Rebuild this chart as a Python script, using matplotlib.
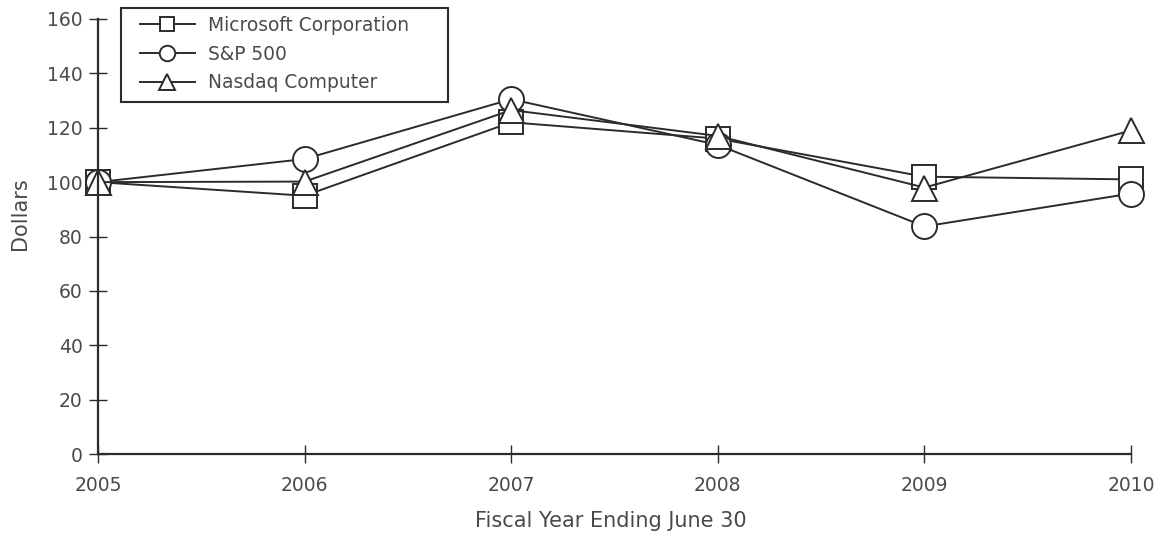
import matplotlib
matplotlib.use("Agg")
import matplotlib.pyplot as plt
from matplotlib.patches import Rectangle

# values
years = [2005, 2006, 2007, 2008, 2009, 2010]
microsoft = [100, 95, 122, 116, 102, 101]
sp500 = [100, 108.5, 130.5, 113.7, 83.7, 95.8]
nasdaq = [100, 100.2, 126.5, 117, 98, 119]
y_ticks = [0, 20, 40, 60, 80, 100, 120, 140, 160]

LINE = "#2b2b2b"
TEXT = "#4a4a4a"
W, H = 1164, 534

plt.rcParams["font.family"] = ["DejaVu Sans"]

fig = plt.figure(figsize=(W / 100, H / 100), dpi=100)
ax = fig.add_axes([98 / W, 1 - 454 / H, 1033 / W, 435 / H])

series = [
    ("Microsoft Corporation", microsoft, "s", 17.3),
    ("S&P 500", sp500, "o", 18),
    ("Nasdaq Computer", nasdaq, "^", 18),
]
handles = []
for label, vals, mk, ms in series:
    h, = ax.plot(years, vals, color=LINE, linewidth=1.4, marker=mk,
                 markersize=ms, markerfacecolor="white",
                 markeredgecolor=LINE, markeredgewidth=1.4,
                 clip_on=False, label=label)
    handles.append(h)

ax.set_xlim(2005, 2010)
ax.set_ylim(0, 160)
ax.set_xticks(years)
ax.set_yticks(y_ticks)
ax.tick_params(axis="both", direction="inout", length=13, width=1.0,
               color=LINE, labelcolor=TEXT, labelsize=13.5)
ax.tick_params(axis="x", pad=9)
ax.tick_params(axis="y", pad=4.5)
ax.spines[["top", "right"]].set_visible(False)
for s in ["left", "bottom"]:
    ax.spines[s].set_color(LINE)
    ax.spines[s].set_linewidth(1.6)

ax.set_xlabel("Fiscal Year Ending June 30", fontsize=15, color=TEXT, va="center")
ax.xaxis.set_label_coords((611 - 98) / 1033, (454 - 521) / 435)
ax.set_ylabel("Dollars", fontsize=15, color=TEXT, va="center")
ax.yaxis.set_label_coords((19.5 - 98) / 1033, (454 - 214) / 435)

# legend box drawn separately so its padding can match the reference
fig.add_artist(Rectangle((121 / W, 1 - 102 / H), 327 / W, 94 / H,
                         transform=fig.transFigure, fill=False,
                         edgecolor=LINE, linewidth=1.5))
leg = fig.legend(handles=handles, loc="upper left",
                 bbox_to_anchor=(140 / W, 1 - 16 / H),
                 frameon=False, fontsize=13.4,
                 markerscale=0.62, handlelength=2.95, labelspacing=0.52,
                 borderpad=0, borderaxespad=0, handletextpad=0.7)
for t in leg.get_texts():
    t.set_color(TEXT)

fig.savefig("out.png", dpi=100, facecolor="white")
